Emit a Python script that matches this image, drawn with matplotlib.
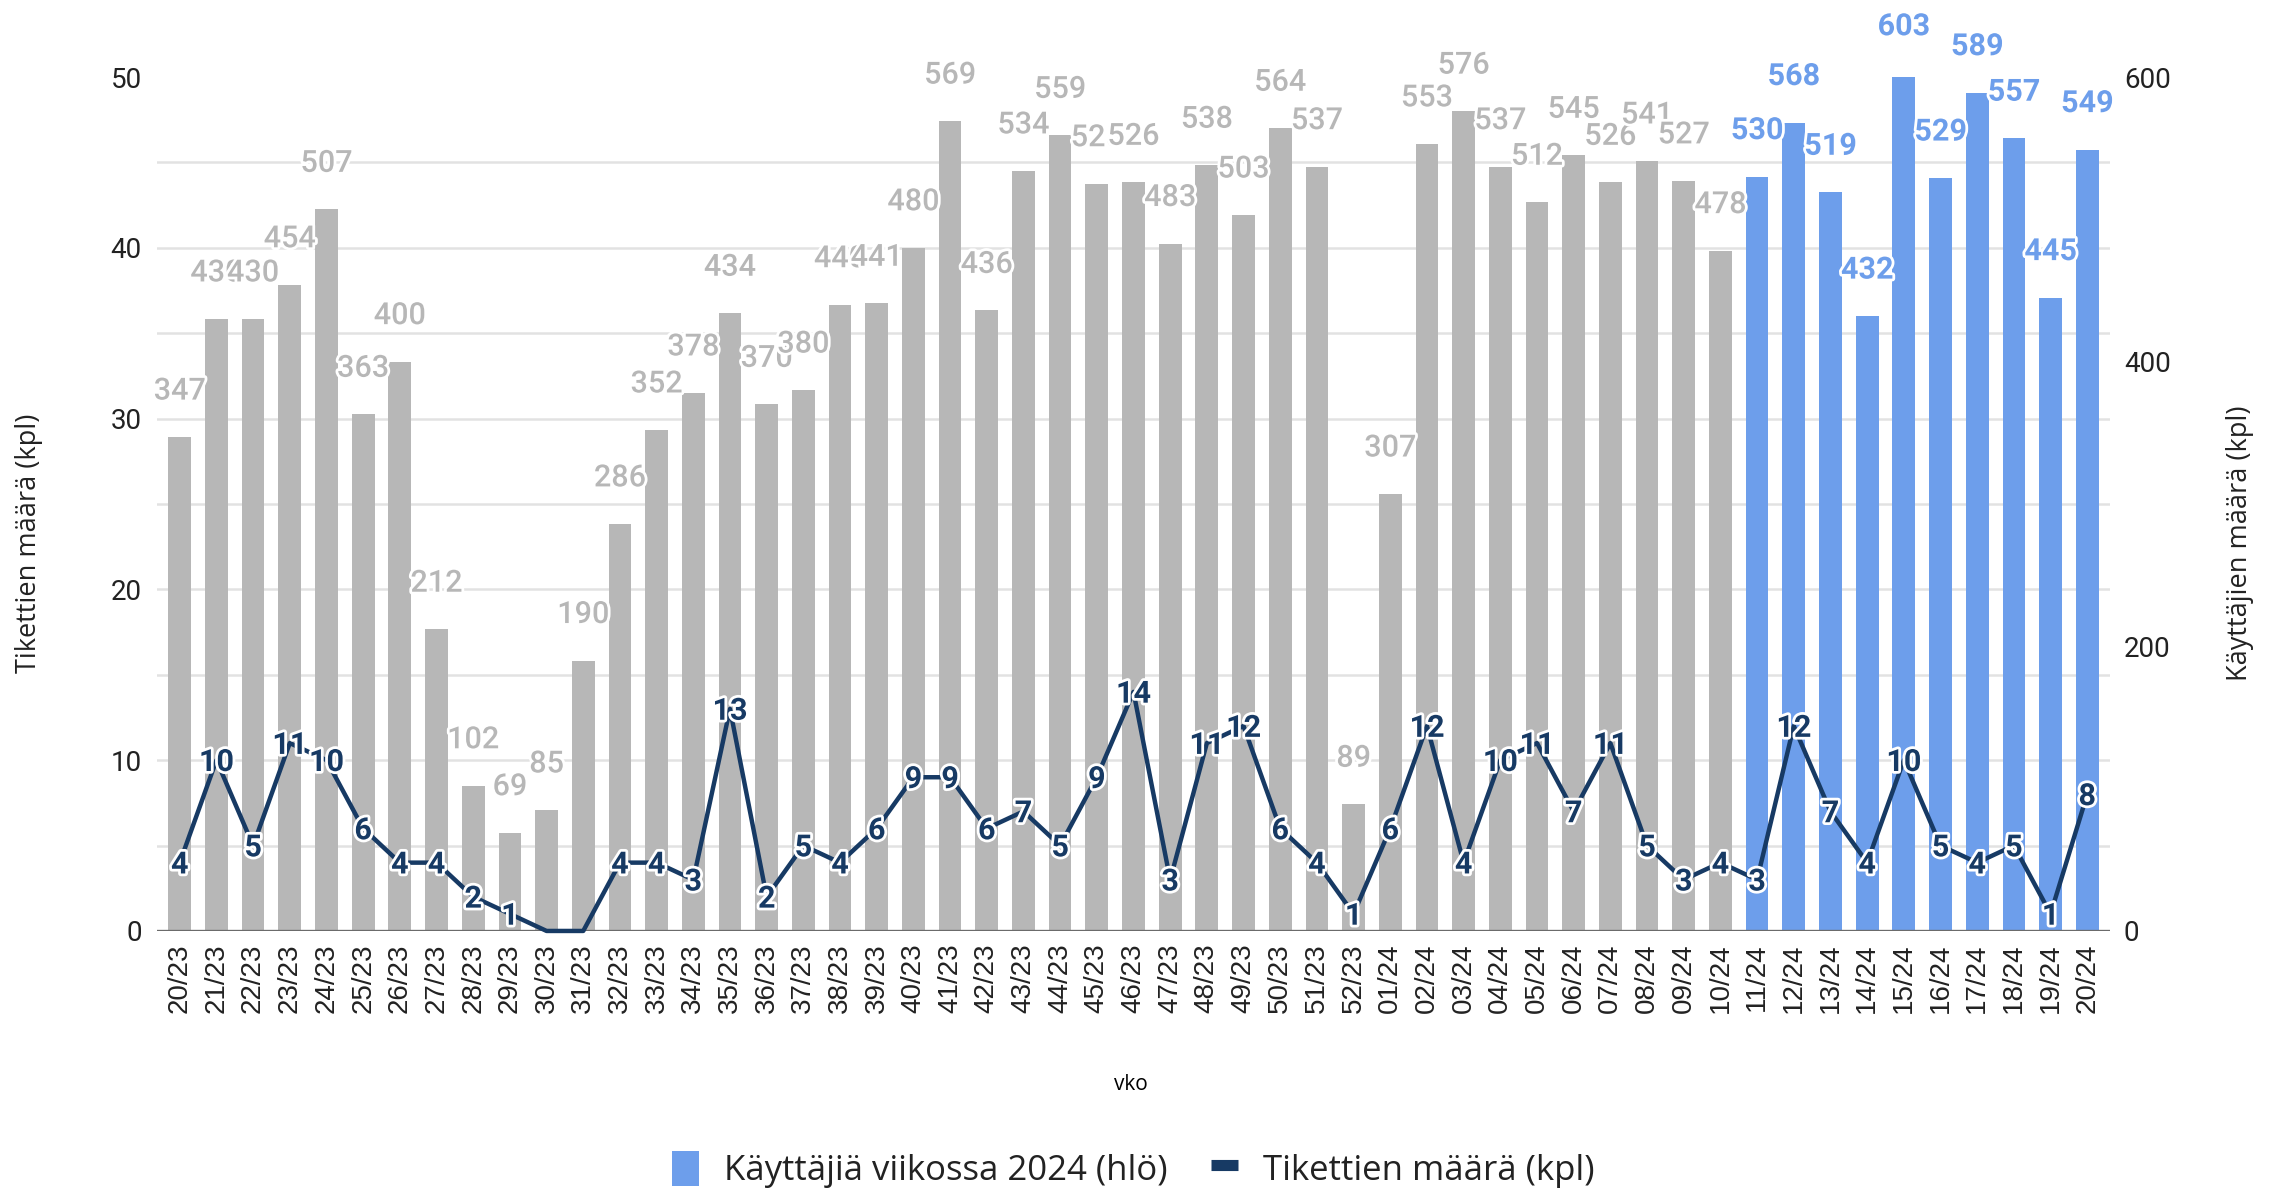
import matplotlib
matplotlib.use("Agg")
import matplotlib.pyplot as plt
import matplotlib.patheffects as pe
from matplotlib.patches import Patch
from matplotlib.lines import Line2D
import numpy as np

plt.rcParams['font.family'] = ['Roboto', 'DejaVu Sans']

# Weekly data: week/year, users per week, tickets per week
weeks = ['20/23', '21/23', '22/23', '23/23', '24/23', '25/23', '26/23', '27/23',
         '28/23', '29/23', '30/23', '31/23', '32/23', '33/23', '34/23', '35/23',
         '36/23', '37/23', '38/23', '39/23', '40/23', '41/23', '42/23', '43/23',
         '44/23', '45/23', '46/23', '47/23', '48/23', '49/23', '50/23', '51/23',
         '52/23', '01/24', '02/24', '03/24', '04/24', '05/24', '06/24', '07/24',
         '08/24', '09/24', '10/24', '11/24', '12/24', '13/24', '14/24', '15/24',
         '16/24', '17/24', '18/24', '19/24', '20/24']
users = [347, 430, 430, 454, 507, 363, 400, 212, 102, 69, 85, 190, 286, 352,
         378, 434, 370, 380, 440, 441, 480, 569, 436, 534, 559, 525, 526, 483,
         538, 503, 564, 537, 89, 307, 553, 576, 537, 512, 545, 526, 541, 527,
         478, 530, 568, 519, 432, 603, 529, 589, 557, 445, 549]
tickets = [4, 10, 5, 11, 10, 6, 4, 4, 2, 1, 0, 0, 4, 4, 3, 13, 2, 5, 4, 6, 9, 9,
           6, 7, 5, 9, 14, 3, 11, 12, 6, 4, 1, 6, 12, 4, 10, 11, 7, 11, 5, 3, 4,
           3, 12, 7, 4, 10, 5, 4, 5, 1, 8]
first_2024_week = '11/24'

GREY = '#b7b7b7'
BLUE = '#6d9eeb'
NAVY = '#173a64'
TEXT = '#222222'

x = np.arange(len(weeks))
split = weeks.index(first_2024_week)
bar_colors = [GREY if i < split else BLUE for i in x]

fig = plt.figure(figsize=(22.77, 11.92), dpi=100)
ax = fig.add_axes([0.06895, 0.2190, 0.8577, 0.7164])
ax2 = ax.twinx()
# line axis on top of the bar axis
ax.set_zorder(ax2.get_zorder() + 1)
ax.patch.set_visible(False)

# bars (users, right axis)
ax2.bar(x, users, width=0.62, color=bar_colors, zorder=2)
ax2.set_ylim(0, 600)
ax2.set_yticks([0, 200, 400, 600])
ax2.set_yticks(np.arange(0, 601, 60), minor=True)
ax2.yaxis.grid(True, which='minor', color='#e2e2e2', linewidth=1.8)
ax2.yaxis.grid(False, which='major')
ax2.set_axisbelow(True)
ax2.tick_params(axis='y', which='both', length=0, pad=10, labelsize=20,
                labelcolor=TEXT)

halo = [pe.withStroke(linewidth=4, foreground='white')]
for i, v in enumerate(users):
    c = bar_colors[i]
    ax2.annotate(str(v), (i, v), xytext=(0, 27), textcoords='offset points',
                 ha='center', va='baseline', fontsize=22, color=c,
                 fontweight='bold' if c == BLUE else 'medium',
                 path_effects=halo, annotation_clip=False, zorder=3)

# ticket line (left axis)
ax.axhline(0, color='#6b6b6b', linewidth=2.4, zorder=1)
ax.plot(x, tickets, color=NAVY, linewidth=3.2, zorder=3, clip_on=False)
for i, v in enumerate(tickets):
    if v == 0:
        continue
    ax.annotate(str(v), (i, v), xytext=(0, -7.8), textcoords='offset points',
                ha='center', va='baseline', fontsize=22, fontweight='bold',
                color=NAVY, path_effects=halo, annotation_clip=False, zorder=4)

ax.set_ylim(0, 50)
ax.set_yticks(np.arange(0, 51, 10))
ax.set_xlim(-0.62, len(weeks) - 0.38)
ax.set_xticks(x)
ax.set_xticklabels(weeks, rotation=90, fontsize=20, family='Liberation Sans',
                   color=TEXT)
ax.tick_params(axis='x', length=0, pad=9)
ax.tick_params(axis='y', length=0, pad=11, labelsize=20, labelcolor=TEXT)

for a in (ax, ax2):
    for s in a.spines.values():
        s.set_visible(False)

# axis titles
fig.text(29 / 2277, 1 - 543 / 1192, 'Tikettien määrä (kpl)', rotation=90,
         ha='center', va='center', fontsize=19.5, family='Open Sans', color=TEXT)
fig.text(2240 / 2277, 1 - 543 / 1192, 'Käyttäjien määrä (kpl)', rotation=90,
         ha='center', va='center', fontsize=19.5, family='Open Sans', color=TEXT)
fig.text(1131 / 2277, 1 - 1085 / 1192, 'vko', ha='center', va='center',
         fontsize=15, family='Open Sans', color='black')

handles = [Patch(facecolor=BLUE, edgecolor='none'),
           Line2D([0], [0], color=NAVY, linewidth=8, solid_capstyle='butt')]
fig.legend(handles, ['Käyttäjiä viikossa 2024 (hlö)', 'Tikettien määrä (kpl)'],
           loc='center', bbox_to_anchor=(0.4977, 0.019), ncol=2, frameon=False,
           prop={'family': 'Open Sans', 'size': 25}, labelcolor=TEXT,
           handlelength=0.78, handleheight=1.2, handletextpad=0.72,
           columnspacing=1.27)

fig.savefig('out.png', dpi=100)
